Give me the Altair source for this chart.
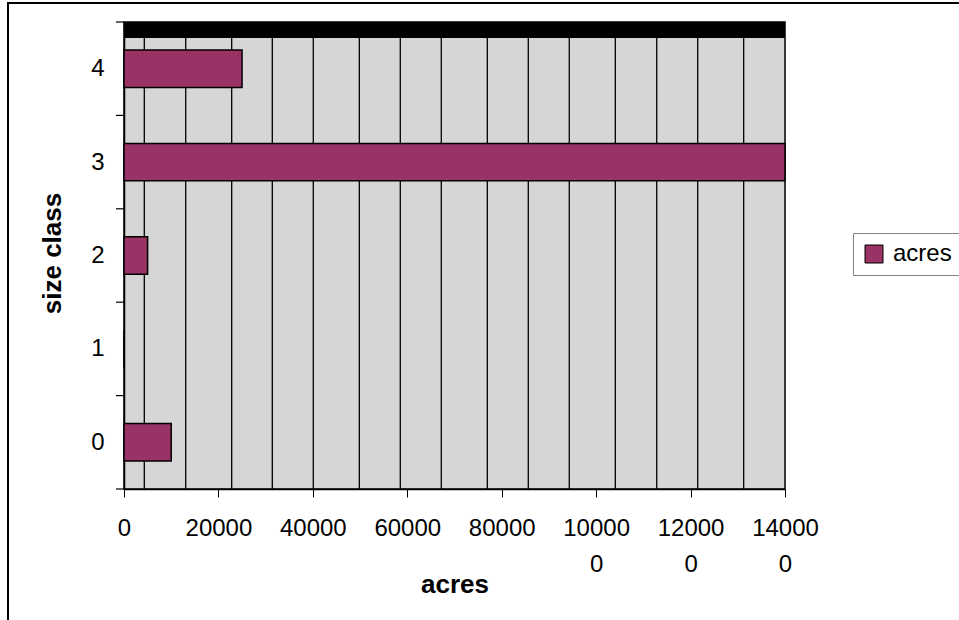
import altair as alt
import pandas as pd

# ---- data ----
size_class = [0, 1, 2, 3, 4]
acres = [10000, 0, 5000, 140000, 25000]
x_tick_values = [0, 20000, 40000, 60000, 80000, 100000, 120000, 140000]
y_label_values = [0, 1, 2, 3, 4]
y_tick_bounds = [-0.5, 0.5, 1.5, 2.5, 3.5, 4.5]
grid_values = [4300, 13070, 22810, 31410, 40090, 49840, 58520, 67200,
               76950, 85630, 94310, 104060, 112830, 121510, 131250]

FONT = "Liberation Sans"
W, H = 661, 467
BAR_COLOR = "#993366"

bars_df = pd.DataFrame({"size_class": size_class, "acres": acres,
                        "series": ["acres"] * len(size_class)})

xs = alt.Scale(domain=[0, 140000], nice=False, zero=True)
ys = alt.Scale(domain=[-0.5, 4.5], nice=False, zero=False)

x_axis = alt.Axis(
    values=x_tick_values, format="d", grid=False, ticks=True, tickSize=8,
    tickColor="black", domainColor="black", domainWidth=1.5,
    labelFont=FONT, labelFontSize=24, labelColor="black", labelPadding=19,
    labelLineHeight=36, labelFlush=False, labelOverlap=False,
    labelExpr="length(datum.label) > 5 ? [slice(datum.label, 0, 5), slice(datum.label, 5)] : datum.label",
    title="acres", titleFont=FONT, titleFontSize=26, titleFontWeight="bold",
    titleColor="black", titleBaseline="alphabetic", titleY=103,
)
y_axis = alt.Axis(
    values=y_label_values, format="d", grid=False, ticks=False,
    domainColor="black", domainWidth=1.5,
    labelFont=FONT, labelFontSize=24, labelColor="black", labelPadding=20,
    title="size class", titleFont=FONT, titleFontSize=26, titleFontWeight="bold",
    titleColor="black", titleAngle=270, titleBaseline="alphabetic",
    titleX=-64, titleY=231, titleAlign="center",
)

X = lambda f: alt.X(f, scale=xs, axis=x_axis)
Y = lambda f: alt.Y(f, scale=ys, axis=y_axis)

grid = alt.Chart(pd.DataFrame({"g": grid_values})).mark_rule(
    color="black", strokeWidth=1.3
).encode(x=X("g:Q"))

top_band = alt.Chart(pd.DataFrame({"a": [0]})).mark_rect(color="black").encode(
    x=X("x0:Q"), x2=alt.datum(140000), y=Y("y0:Q"), y2=alt.datum(4.33)
).transform_calculate(x0="0", y0="4.5")

y_ticks = alt.Chart(pd.DataFrame({"b": y_tick_bounds})).mark_rule(
    color="black", strokeWidth=1.2
).encode(y=Y("b:Q"), x=alt.value(-8), x2=alt.value(0))

bars = alt.Chart(bars_df).transform_calculate(
    lo="datum.size_class - 0.2", hi="datum.size_class + 0.2", zero="0"
).mark_rect(stroke="black", strokeWidth=1.5).encode(
    x=X("zero:Q"), x2="acres:Q", y=Y("lo:Q"), y2="hi:Q",
    color=alt.Color(
        "series:N",
        scale=alt.Scale(domain=["acres"], range=[BAR_COLOR]),
        legend=alt.Legend(
            title=None, orient="none", legendX=729, legendY=211,
            symbolType="square", symbolSize=324, symbolStrokeColor="black",
            symbolStrokeWidth=1, symbolOpacity=1, labelFont=FONT,
            labelFontSize=24, labelColor="black", labelOffset=7,
            strokeColor="#808080", padding=9, fillColor="white",
        ),
    ),
)

frame = alt.Chart(pd.DataFrame({"a": [0]})).mark_rect(
    fill=None, stroke="black", strokeWidth=2
).encode(x=alt.value(-116), x2=alt.value(900), y=alt.value(-19), y2=alt.value(700))

chart = alt.layer(grid, top_band, y_ticks, bars, frame).properties(
    width=W, height=H,
    autosize=alt.AutoSizeParams(type="none"),
    padding={"left": 124, "top": 22, "right": 174, "bottom": 131},
    background="white",
).configure_view(stroke="black", strokeWidth=1.5, fill="#d6d6d6")

chart.save("out.html", embed_options={"renderer": "svg", "actions": False})
